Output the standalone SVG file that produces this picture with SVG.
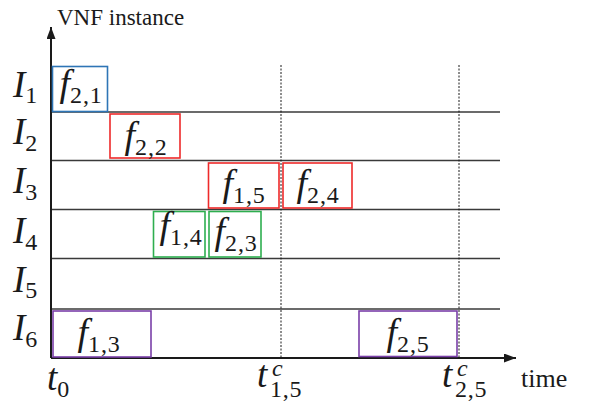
<svg xmlns="http://www.w3.org/2000/svg" width="589" height="402" viewBox="0 0 589 402">
  <defs>
    <style>
      .row { stroke: #3a3a3a; stroke-width: 1.3; fill: none; }
      .axis { stroke: #1a1a1a; stroke-width: 2; fill: none; }
      .dot { stroke: #1a1a1a; stroke-width: 1; stroke-dasharray: 2 1.5; fill: none; }
      .job { fill: #ffffff; stroke-width: 1.6; }
      .blue { stroke: #2e75b6; }
      .red { stroke: #ee2a2a; }
      .green { stroke: #2eae4f; }
      .purple { stroke: #7a3fa8; }
    </style>
    <marker id="arrow" viewBox="0 0 12 9" refX="12" refY="4.5" markerWidth="12" markerHeight="9" markerUnits="userSpaceOnUse" orient="auto">
      <path d="M0,0 L12,4.5 L0,9 Z" fill="#1a1a1a"/>
    </marker>
  </defs>

  <!-- axes, row separators and completion-time markers -->
  <g id="connectors">
    <line class="row" x1="51" y1="112" x2="500" y2="112"/>
    <line class="row" x1="51" y1="160.5" x2="500" y2="160.5"/>
    <line class="row" x1="51" y1="209.5" x2="500" y2="209.5"/>
    <line class="row" x1="51" y1="258.5" x2="500" y2="258.5"/>
    <line class="row" x1="51" y1="309" x2="500" y2="309"/>
    <line class="dot" x1="281" y1="65" x2="281" y2="357"/>
    <line class="dot" x1="459" y1="65" x2="459" y2="357"/>
    <line class="axis" x1="51" y1="358" x2="516" y2="358" stroke-width="1.6" marker-end="url(#arrow)"/>
    <line class="axis" x1="51" y1="358" x2="51" y2="27" marker-end="url(#arrow)"/>
  </g>

  <!-- all text uses a Times-metric serif -->
  <g font-family="'Liberation Serif', 'Times New Roman', Times, serif" fill="#1a1a1a">
    <g id="axis-labels" font-style="normal">
      <text x="57" y="25" font-size="23">VNF instance</text>
      <text x="521" y="387" font-size="26">time</text>
    </g>

    <g id="instance-labels" font-style="italic" font-size="37">
      <text x="13" y="97">I<tspan font-style="normal" font-size="24" dy="6">1</tspan></text>
      <text x="13" y="144">I<tspan font-style="normal" font-size="24" dy="7">2</tspan></text>
      <text x="13" y="193">I<tspan font-style="normal" font-size="24" dy="7">3</tspan></text>
      <text x="13" y="243">I<tspan font-style="normal" font-size="24" dy="7">4</tspan></text>
      <text x="13" y="292">I<tspan font-style="normal" font-size="24" dy="6">5</tspan></text>
      <text x="13" y="340">I<tspan font-style="normal" font-size="24" dy="7">6</tspan></text>
    </g>

    <g id="time-labels">
      <text x="47" y="390" font-style="italic" font-size="37">t<tspan font-style="normal" font-size="24" dy="7">0</tspan></text>
      <text x="257" y="387" font-style="italic" font-size="37">t</text>
      <text x="272" y="376" font-style="italic" font-size="24">c</text>
      <text x="270" y="397" font-size="24" letter-spacing="0.8">1,5</text>
      <text x="442" y="387" font-style="italic" font-size="37">t</text>
      <text x="457" y="376" font-style="italic" font-size="24">c</text>
      <text x="455" y="397" font-size="24" letter-spacing="0.8">2,5</text>
    </g>

    <g id="f21">
      <rect class="job blue" x="52.5" y="66.5" width="55" height="45"/>
      <text x="81" y="96" text-anchor="middle" font-style="italic" font-size="38">f<tspan font-style="normal" font-size="24" letter-spacing="0.8" dy="7">2,1</tspan></text>
    </g>
    <g id="f22">
      <rect class="job red" x="110" y="114" width="70" height="44"/>
      <text x="146" y="148" text-anchor="middle" font-style="italic" font-size="38">f<tspan font-style="normal" font-size="24" letter-spacing="0.8" dy="7">2,2</tspan></text>
    </g>
    <g id="f15">
      <rect class="job red" x="208.5" y="163" width="70.5" height="45"/>
      <text x="244" y="196" text-anchor="middle" font-style="italic" font-size="38">f<tspan font-style="normal" font-size="24" letter-spacing="0.8" dy="7">1,5</tspan></text>
    </g>
    <g id="f24">
      <rect class="job red" x="283" y="163" width="69" height="45"/>
      <text x="318" y="196" text-anchor="middle" font-style="italic" font-size="38">f<tspan font-style="normal" font-size="24" letter-spacing="0.8" dy="7">2,4</tspan></text>
    </g>
    <g id="f14">
      <rect class="job green" x="153.5" y="211.5" width="51.5" height="45.5"/>
      <text x="181" y="238" text-anchor="middle" font-style="italic" font-size="38">f<tspan font-style="normal" font-size="24" letter-spacing="0.8" dy="7">1,4</tspan></text>
    </g>
    <g id="f23">
      <rect class="job green" x="209" y="211.5" width="52" height="45.5"/>
      <text x="236" y="244" text-anchor="middle" font-style="italic" font-size="38">f<tspan font-style="normal" font-size="24" letter-spacing="0.8" dy="7">2,3</tspan></text>
    </g>
    <g id="f13">
      <rect class="job purple" x="53" y="311" width="98" height="46"/>
      <text x="99" y="345" text-anchor="middle" font-style="italic" font-size="38">f<tspan font-style="normal" font-size="24" letter-spacing="0.8" dy="7">1,3</tspan></text>
    </g>
    <g id="f25">
      <rect class="job purple" x="359" y="311" width="98" height="45.5"/>
      <text x="408" y="345" text-anchor="middle" font-style="italic" font-size="38">f<tspan font-style="normal" font-size="24" letter-spacing="0.8" dy="7">2,5</tspan></text>
    </g>
  </g>
</svg>
